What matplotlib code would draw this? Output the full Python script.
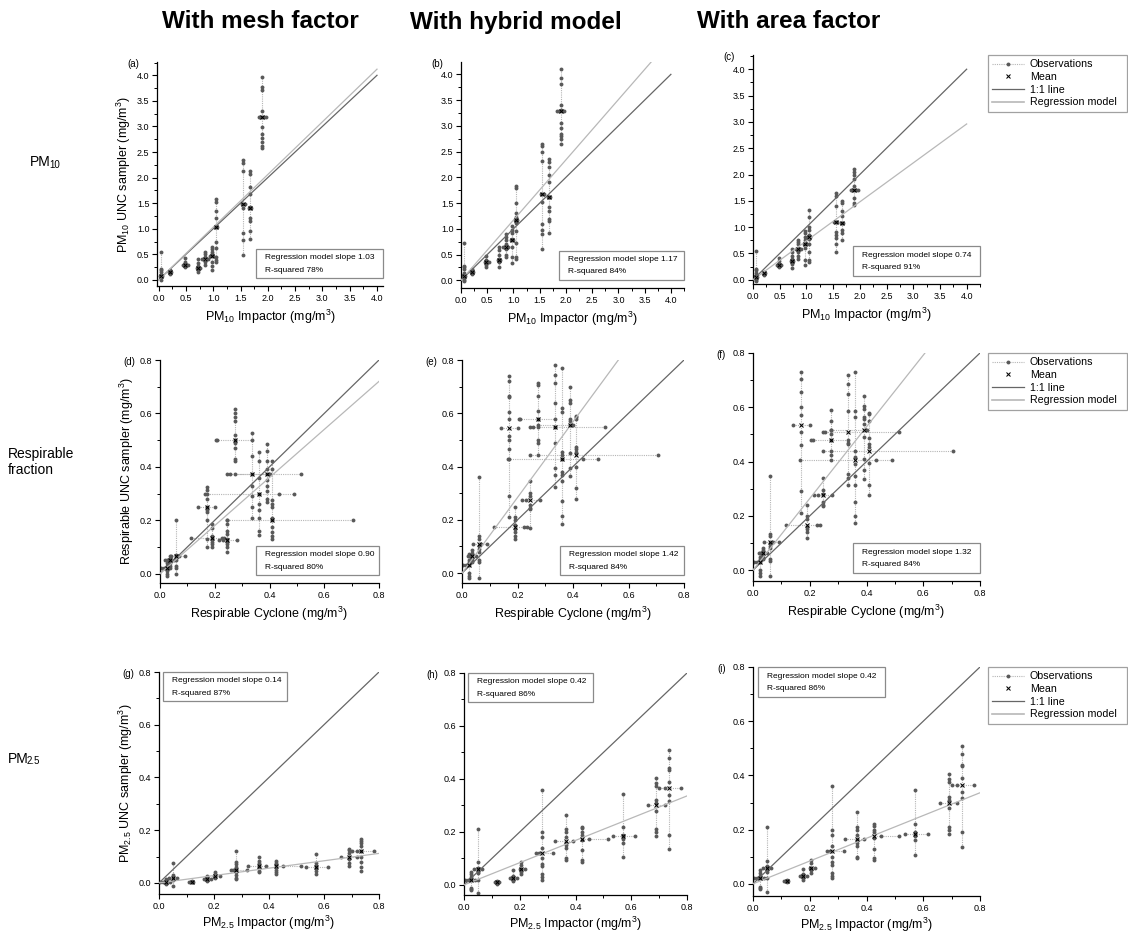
import numpy as np
import matplotlib
matplotlib.use("Agg")
import matplotlib.pyplot as plt
from matplotlib.lines import Line2D
from matplotlib.patches import Rectangle
from matplotlib.ticker import MultipleLocator, FormatStrFormatter

plt.rcParams['font.family'] = ['Liberation Sans', 'DejaVu Sans']
plt.rcParams['mathtext.default'] = 'regular'

# ---------------- data ----------------
col_titles = ["With mesh factor", "With hybrid model", "With area factor"]
panel_tags = [["(a)", "(b)", "(c)"], ["(d)", "(e)", "(f)"], ["(g)", "(h)", "(i)"]]
slopes = [[1.03, 1.17, 0.74], [0.90, 1.42, 1.32], [0.14, 0.42, 0.42]]
rsq = [[78, 84, 91], [80, 84, 84], [87, 86, 86]]

# PM10 row: impactor means and impactor replicate values
pm10_x = [0.05, 0.21, 0.48, 0.73, 0.85, 0.97, 1.05, 1.55, 1.67, 1.90]
pm10_xobs = [[0.03, 0.07], [0.19, 0.23], [0.45, 0.53], [0.71, 0.75], [0.80, 0.90],
             [0.95, 0.99], [1.03, 1.07], [1.52, 1.58], [1.65, 1.69], [1.83, 1.86, 1.93, 1.96]]

mesh10_y = [0.08, 0.15, 0.29, 0.24, 0.40, 0.46, 1.03, 1.48, 1.40, 3.18]
mesh10_yobs = [[0.55, 0.22, 0.20, 0.15, 0.10, 0.05, 0.0],
               [0.20, 0.17, 0.14, 0.12],
               [0.42, 0.35, 0.30, 0.25],
               [0.40, 0.32, 0.28, 0.20, 0.15],
               [0.55, 0.50, 0.45, 0.35, 0.30],
               [0.65, 0.60, 0.55, 0.50, 0.35, 0.28, 0.20],
               [1.58, 1.52, 1.35, 1.20, 1.03, 0.75, 0.63, 0.45, 0.38, 0.35],
               [2.35, 2.28, 2.12, 1.48, 1.40, 0.92, 0.78, 0.48],
               [2.12, 2.07, 1.82, 1.68, 1.42, 1.20, 1.15, 0.95, 0.80],
               [3.97, 3.78, 3.72, 3.30, 3.18, 2.98, 2.85, 2.78, 2.70, 2.62, 2.57]]

hybrid10_y = [0.08, 0.17, 0.35, 0.40, 0.65, 0.78, 1.18, 1.68, 1.62, 3.28]
hybrid10_yobs = [[0.72, 0.28, 0.25, 0.22, 0.15, 0.10, 0.05, 0.0, -0.02],
                 [0.22, 0.20, 0.15, 0.13],
                 [0.48, 0.40, 0.30, 0.25],
                 [0.65, 0.58, 0.50, 0.42, 0.38, 0.35, 0.25],
                 [0.90, 0.85, 0.78, 0.70, 0.60, 0.50, 0.45],
                 [1.05, 0.98, 0.92, 0.80, 0.65, 0.45, 0.33],
                 [1.83, 1.80, 1.50, 1.30, 1.22, 1.12, 0.95, 0.72, 0.45, 0.42],
                 [2.65, 2.60, 2.50, 2.32, 1.68, 1.52, 1.10, 0.98, 0.90, 0.60],
                 [2.35, 2.30, 2.20, 2.05, 1.90, 1.62, 1.42, 1.35, 1.20, 1.15, 0.92],
                 [4.10, 3.92, 3.82, 3.40, 3.30, 3.05, 2.95, 2.85, 2.80, 2.75, 2.65]]

area10_y = [0.05, 0.12, 0.29, 0.35, 0.58, 0.68, 0.82, 1.10, 1.08, 1.70]
area10_yobs = [[0.55, 0.20, 0.18, 0.12, 0.10, 0.05, 0.0, -0.03],
               [0.15, 0.12, 0.10],
               [0.42, 0.35, 0.30, 0.25],
               [0.58, 0.52, 0.45, 0.40, 0.35, 0.30, 0.22],
               [0.75, 0.72, 0.68, 0.60, 0.52, 0.45, 0.40],
               [0.92, 0.88, 0.82, 0.75, 0.70, 0.60, 0.38, 0.28],
               [1.33, 1.20, 1.00, 0.95, 0.85, 0.78, 0.68, 0.52, 0.38, 0.34],
               [1.65, 1.60, 1.40, 1.10, 0.90, 0.85, 0.80, 0.68, 0.52],
               [1.50, 1.45, 1.30, 1.22, 1.08, 0.95, 0.88, 0.75],
               [2.10, 2.05, 2.00, 1.92, 1.78, 1.70, 1.55, 1.45, 1.42]]

# Respirable row
resp_x = [0.025, 0.037, 0.06, 0.17, 0.19, 0.245, 0.275, 0.335, 0.36, 0.39, 0.41]
resp_xobs = [[0.005, 0.015], [0.02, 0.03, 0.05], [0.04, 0.07, 0.09], [0.14, 0.20],
             [0.115, 0.225, 0.235], [0.215, 0.23, 0.28], [0.205, 0.21, 0.335],
             [0.245, 0.255, 0.515], [0.165, 0.435, 0.49], [0.275, 0.40], [0.245, 0.705]]

meshr_y = [0.02, 0.05, 0.065, 0.25, 0.135, 0.125, 0.50, 0.375, 0.30, 0.375, 0.20]
meshr_yobs = [[0.05, 0.04, 0.03, 0.02, 0.01, 0.0, -0.01],
              [0.065, 0.055, 0.05, 0.04, 0.03, 0.02],
              [0.20, 0.07, 0.06, 0.05, 0.03, 0.02, 0.0],
              [0.325, 0.315, 0.30, 0.28, 0.25, 0.24, 0.23, 0.20, 0.13, 0.10],
              [0.185, 0.17, 0.14, 0.13, 0.12, 0.11, 0.10],
              [0.20, 0.185, 0.16, 0.15, 0.13, 0.12, 0.11, 0.10, 0.08],
              [0.615, 0.60, 0.585, 0.57, 0.52, 0.50, 0.49, 0.47, 0.43, 0.42],
              [0.525, 0.44, 0.375, 0.33, 0.29, 0.25, 0.21],
              [0.455, 0.42, 0.36, 0.30, 0.26, 0.24, 0.21, 0.16, 0.145],
              [0.485, 0.46, 0.42, 0.39, 0.375, 0.35, 0.33, 0.31, 0.28, 0.27],
              [0.42, 0.39, 0.275, 0.26, 0.25, 0.21, 0.20, 0.175, 0.155, 0.14, 0.13]]

hybridr_y = [0.03, 0.065, 0.11, 0.545, 0.175, 0.275, 0.58, 0.55, 0.43, 0.555, 0.445]
hybridr_yobs = [[0.07, 0.05, 0.04, 0.03, 0.0, -0.01, -0.02],
                [0.085, 0.075, 0.065, 0.055, 0.05, 0.04],
                [0.36, 0.14, 0.13, 0.10, 0.09, 0.08, 0.05, 0.04, -0.02],
                [0.74, 0.72, 0.665, 0.66, 0.605, 0.58, 0.515, 0.50, 0.465, 0.43, 0.29, 0.21],
                [0.25, 0.21, 0.20, 0.18, 0.165, 0.155, 0.14, 0.13],
                [0.345, 0.30, 0.29, 0.255, 0.245, 0.24, 0.17],
                [0.715, 0.705, 0.665, 0.61, 0.58, 0.55, 0.50, 0.49, 0.445],
                [0.78, 0.745, 0.715, 0.64, 0.55, 0.49, 0.395, 0.37, 0.325],
                [0.77, 0.62, 0.605, 0.455, 0.445, 0.43, 0.38, 0.37, 0.345, 0.27, 0.215, 0.185],
                [0.70, 0.65, 0.64, 0.58, 0.57, 0.555, 0.45, 0.395, 0.365],
                [0.59, 0.585, 0.58, 0.475, 0.465, 0.455, 0.40, 0.32, 0.28]]

arear_y = [0.03, 0.065, 0.105, 0.535, 0.165, 0.275, 0.48, 0.51, 0.405, 0.515, 0.44]
arear_yobs = [[0.065, 0.05, 0.04, 0.03, 0.0, -0.01, -0.02],
              [0.08, 0.075, 0.06, 0.05, 0.045, 0.04],
              [0.345, 0.135, 0.125, 0.10, 0.09, 0.08, 0.04, 0.035, -0.02],
              [0.73, 0.705, 0.655, 0.60, 0.57, 0.51, 0.46, 0.29, 0.21],
              [0.24, 0.20, 0.19, 0.16, 0.15, 0.14, 0.12],
              [0.34, 0.295, 0.28, 0.25, 0.24, 0.235],
              [0.59, 0.55, 0.515, 0.50, 0.48, 0.44, 0.425, 0.405],
              [0.72, 0.685, 0.65, 0.585, 0.47, 0.465, 0.355, 0.34, 0.315],
              [0.73, 0.585, 0.565, 0.44, 0.415, 0.39, 0.345, 0.315, 0.25, 0.20, 0.175],
              [0.64, 0.605, 0.595, 0.565, 0.555, 0.54, 0.49, 0.41, 0.37, 0.335],
              [0.58, 0.575, 0.55, 0.485, 0.465, 0.455, 0.395, 0.315, 0.275]]

# PM2.5 row
pm25_x = [0.025, 0.05, 0.12, 0.175, 0.205, 0.28, 0.365, 0.425, 0.57, 0.69, 0.735]
pm25_xobs = [[0.005, 0.015, 0.04], [0.035, 0.065], [0.11, 0.125], [0.165, 0.19], [0.20, 0.22],
             [0.26, 0.27, 0.32], [0.325, 0.39], [0.45, 0.515], [0.535, 0.615], [0.66, 0.72],
             [0.70, 0.72, 0.78]]

mesh25_y = [0.005, 0.02, 0.005, 0.015, 0.028, 0.048, 0.065, 0.065, 0.06, 0.10, 0.12]
mesh25_yobs = [[0.015, 0.01, 0.005, 0.0, -0.005],
               [0.075, 0.03, 0.02, 0.01, -0.01],
               [0.008, 0.005, 0.003],
               [0.025, 0.02, 0.015, 0.01, 0.008],
               [0.04, 0.035, 0.03, 0.025, 0.02],
               [0.12, 0.08, 0.07, 0.06, 0.05, 0.04, 0.03, 0.02, 0.015],
               [0.098, 0.085, 0.075, 0.065, 0.055, 0.045, 0.04],
               [0.082, 0.075, 0.068, 0.06, 0.05, 0.04, 0.035],
               [0.108, 0.075, 0.065, 0.055, 0.045, 0.035],
               [0.13, 0.125, 0.115, 0.10, 0.09, 0.075, 0.065],
               [0.168, 0.16, 0.15, 0.14, 0.12, 0.10, 0.08, 0.06, 0.045]]

hybrid25_y = [0.02, 0.06, 0.01, 0.028, 0.06, 0.12, 0.165, 0.175, 0.185, 0.30, 0.365]
hybrid25_yobs = [[0.05, 0.04, 0.03, 0.02, -0.01, -0.015, -0.02],
                 [0.21, 0.085, 0.065, 0.06, 0.05, 0.045, 0.02, -0.03],
                 [0.015, 0.01, 0.005],
                 [0.055, 0.035, 0.028, 0.02, 0.015],
                 [0.088, 0.075, 0.06, 0.05, 0.04],
                 [0.36, 0.20, 0.18, 0.14, 0.10, 0.08, 0.07, 0.04, 0.03, 0.02],
                 [0.265, 0.21, 0.20, 0.18, 0.16, 0.15, 0.14, 0.10, 0.095],
                 [0.22, 0.215, 0.20, 0.19, 0.17, 0.13, 0.095, 0.088],
                 [0.345, 0.22, 0.19, 0.185, 0.175, 0.16, 0.105],
                 [0.405, 0.385, 0.375, 0.32, 0.31, 0.28, 0.21, 0.20, 0.185],
                 [0.51, 0.48, 0.44, 0.435, 0.39, 0.34, 0.315, 0.19, 0.135]]

# panel (i) reads the same as (h)
area25_y = hybrid25_y
area25_yobs = hybrid25_yobs

rows = [
    (pm10_x, pm10_xobs, [(mesh10_y, mesh10_yobs), (hybrid10_y, hybrid10_yobs), (area10_y, area10_yobs)]),
    (resp_x, resp_xobs, [(meshr_y, meshr_yobs), (hybridr_y, hybridr_yobs), (arear_y, arear_yobs)]),
    (pm25_x, pm25_xobs, [(mesh25_y, mesh25_yobs), (hybrid25_y, hybrid25_yobs), (area25_y, area25_yobs)]),
]

xlabels = ["PM$_{10}$ Impactor (mg/m$^{3}$)", "Respirable Cyclone (mg/m$^{3}$)", "PM$_{2.5}$ Impactor (mg/m$^{3}$)"]
ylabels = ["PM$_{10}$ UNC sampler (mg/m$^{3}$)", "Respirable UNC sampler (mg/m$^{3}$)", "PM$_{2.5}$ UNC sampler (mg/m$^{3}$)"]

# ---------------- layout (pixels) ----------------
W, H = 1128, 935
# left, top, right, bottom
rects = [[(157, 62, 383, 286), (461, 62, 684, 288), (753, 55, 980, 284)],
         [(160, 360, 379, 583), (462, 360, 684, 583), (753, 353, 980, 581)],
         [(159, 672, 379, 894), (464, 673, 687, 895), (753, 667, 980, 896)]]
xlims = [[(-0.03, 4.11), (0, 4.25), (0, 4.25)],
         [(0, 0.8), (0, 0.8), (0, 0.8)],
         [(0, 0.8), (0, 0.8), (0, 0.8)]]
ylims = [[(-0.12, 4.26), (-0.15, 4.24), (-0.08, 4.27)],
         [(-0.035, 0.8), (-0.037, 0.8), (-0.04, 0.8)],
         [(-0.042, 0.8), (-0.038, 0.8), (-0.045, 0.8)]]
one_to_one_end = [4.0, 0.8, 0.8]
major = [0.5, 0.2, 0.2]
tag_x = [-0.105, -0.14, -0.14]
xlabel_pad = [4, 4, 2]

obs_c = '#595959'
dot_c = '#b5b5b5'
line11_c = '#666666'
reg_c = '#b8b8b8'

fig = plt.figure(figsize=(W / 100, H / 100), dpi=100)
fig.set_facecolor("white")

for r, (xm, xobs, cols) in enumerate(rows):
    for c, (ym, yobs) in enumerate(cols):
        l, t, rr, b = rects[r][c]
        ax = fig.add_axes([l / W, 1 - b / H, (rr - l) / W, (b - t) / H])
        for x0, y0, xs, ys in zip(xm, ym, xobs, yobs):
            ax.plot([x0, x0], [min(ys + [y0]), max(ys + [y0])], ls=(0, (1, 1)), color=dot_c, lw=0.8, zorder=1)
            ax.plot([min(xs + [x0]), max(xs + [x0])], [y0, y0], ls=(0, (1, 1)), color=dot_c, lw=0.8, zorder=1)
            ax.plot([x0] * len(ys), ys, 'o', ms=2.8, color=obs_c, mec='none', zorder=2)
            ax.plot(xs, [y0] * len(xs), 'o', ms=2.8, color=obs_c, mec='none', zorder=2)
        e = one_to_one_end[r]
        ax.plot([0, e], [0, e], color=line11_c, lw=0.9, zorder=3)
        ax.plot([0, e], [0, slopes[r][c] * e], color=reg_c, lw=0.9, zorder=3)
        ax.plot(xm, ym, 'x', ms=3.5, mew=0.75, color='black', zorder=4)

        ax.set_xlim(*xlims[r][c])
        ax.set_ylim(*ylims[r][c])
        for s in ['top', 'right']:
            ax.spines[s].set_visible(False)
        for s in ['left', 'bottom']:
            ax.spines[s].set_linewidth(0.9)
        ax.xaxis.set_major_locator(MultipleLocator(major[r]))
        ax.yaxis.set_major_locator(MultipleLocator(major[r]))
        ax.xaxis.set_minor_locator(MultipleLocator(major[r] / 2))
        ax.yaxis.set_minor_locator(MultipleLocator(major[r] / 2))
        ax.xaxis.set_major_formatter(FormatStrFormatter('%.1f'))
        ax.yaxis.set_major_formatter(FormatStrFormatter('%.1f'))
        ax.tick_params(which='major', length=3.5, width=0.8, labelsize=6.5, pad=2)
        ax.tick_params(which='minor', length=2, width=0.7)
        ax.set_xlabel(xlabels[r], fontsize=9, labelpad=xlabel_pad[r])
        if c == 0:
            ax.set_ylabel(ylabels[r], fontsize=9, labelpad=3)
        ax.text(tag_x[r], 0.99, panel_tags[r][c], transform=ax.transAxes, fontsize=7, ha='center', va='center')

        # stats box
        if r < 2:
            bx, by, bw, bh = 0.44, 0.035, 0.56, 0.13
        else:
            bx, by, bw, bh = 0.02, 0.868, 0.56, 0.132
        ax.add_patch(Rectangle((bx, by), bw, bh, transform=ax.transAxes, facecolor='white',
                               edgecolor='#8a8a8a', lw=0.9, zorder=5, clip_on=False))
        ax.text(bx + 0.04, by + bh * 0.70, "Regression model slope %.2f" % slopes[r][c],
                transform=ax.transAxes, fontsize=6, va='center', zorder=6)
        ax.text(bx + 0.04, by + bh * 0.28, "R-squared %d%%" % rsq[r][c],
                transform=ax.transAxes, fontsize=6, va='center', zorder=6)

        if c == 2:
            handles = [
                Line2D([], [], ls=(0, (1, 1)), color=dot_c, lw=0.8, marker='o', ms=2.8,
                       mfc=obs_c, mec='none'),
                Line2D([], [], ls='none', marker='x', ms=3.5, mew=0.75, color='black'),
                Line2D([], [], color=line11_c, lw=0.9),
                Line2D([], [], color=reg_c, lw=1.2),
            ]
            lx0 = (988 - l) / (rr - l)
            lx1 = (1127 - l) / (rr - l)
            leg = ax.legend(handles, ["Observations", "Mean", "1:1 line", "Regression model"],
                            loc='upper left', bbox_to_anchor=(lx0, 1.0, lx1 - lx0, 0.0),
                            mode='expand', borderaxespad=0, fontsize=7.7, frameon=True,
                            fancybox=False, handlelength=3.0, handletextpad=0.5,
                            labelspacing=0.25, borderpad=0.4)
            leg.get_frame().set_edgecolor('#8a8a8a')
            leg.get_frame().set_linewidth(0.9)

# column titles
for cx, title in zip([260, 516, 789], col_titles):
    fig.text(cx / W, 1 - 22 / H, title, fontsize=17.5, fontweight='bold', ha='center', va='center')

# row labels
fig.text(30 / W, 1 - 162 / H, "PM", fontsize=10, va='center')
fig.text(49 / W, 1 - 164.5 / H, "10", fontsize=7, va='center')
fig.text(8 / W, 1 - 462 / H, "Respirable\nfraction", fontsize=10, va='center', linespacing=1.25)
fig.text(8 / W, 1 - 759 / H, "PM", fontsize=10, va='center')
fig.text(27 / W, 1 - 761.5 / H, "2.5", fontsize=7, va='center')

fig.savefig("out.png", dpi=100)
